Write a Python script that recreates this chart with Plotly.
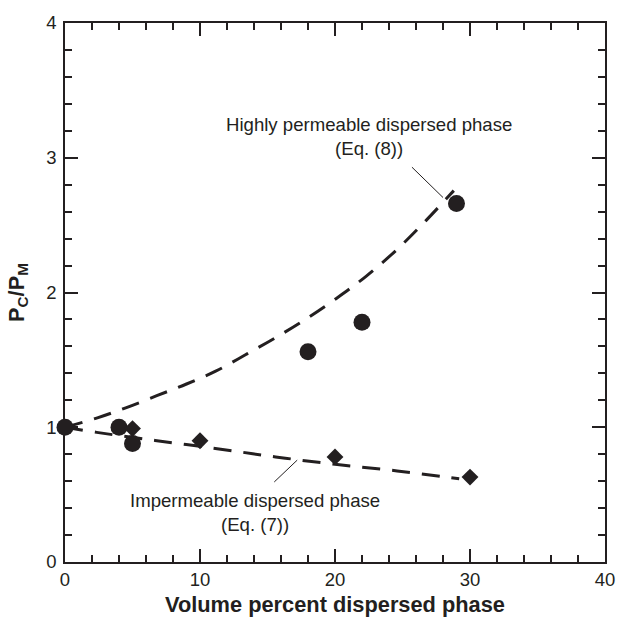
import plotly.graph_objects as go

# Measured permeability ratios
perm_x = [0, 4, 5, 18, 22, 29]
perm_y = [1.0, 1.0, 0.88, 1.56, 1.78, 2.66]
imperm_x = [5, 10, 20, 30]
imperm_y = [0.99, 0.90, 0.78, 0.63]

# Model curves
eq8_x = [0, 2.4, 4.5, 6.8, 9.0, 11.2, 13.4, 15.6, 17.8, 20.1, 22.3, 24.6, 26.7, 28.8]
eq8_y = [1.0, 1.07, 1.144, 1.234, 1.321, 1.418, 1.54, 1.665, 1.80, 1.956, 2.12, 2.32, 2.53, 2.756]
eq7_x = [0, 2.35, 6.67, 11.27, 15.6, 20.0, 24.6, 29.2]
eq7_y = [1.0, 0.962, 0.902, 0.841, 0.78, 0.725, 0.676, 0.617]

INK = "#231f20"
FONT = "Liberation Sans, Arial, sans-serif"

fig = go.Figure()

dash = "18px,12px"
fig.add_trace(go.Scatter(x=eq8_x, y=eq8_y, mode="lines",
                         line=dict(color=INK, width=3, dash=dash, shape="spline"),
                         showlegend=False, hoverinfo="skip"))
fig.add_trace(go.Scatter(x=eq7_x, y=eq7_y, mode="lines",
                         line=dict(color=INK, width=3, dash=dash, shape="spline"),
                         showlegend=False, hoverinfo="skip"))
fig.add_trace(go.Scatter(x=perm_x, y=perm_y, mode="markers",
                         marker=dict(symbol="circle", size=17, color=INK),
                         cliponaxis=False, showlegend=False))
fig.add_trace(go.Scatter(x=imperm_x, y=imperm_y, mode="markers",
                         marker=dict(symbol="diamond", size=13, color=INK),
                         cliponaxis=False, showlegend=False))

# Leader lines from labels to curves
fig.add_shape(type="line", x0=25.7, y0=2.93, x1=28.0, y1=2.705,
              line=dict(color=INK, width=1))
fig.add_shape(type="line", x0=15.5, y0=0.594, x1=17.2, y1=0.756,
              line=dict(color=INK, width=1))

fig.add_annotation(x=22.55, y=3.155, text="Highly permeable dispersed phase<br>(Eq. (8))",
                   showarrow=False, font=dict(family=FONT, size=18.6, color=INK),
                   align="center", xanchor="center", yanchor="middle")
fig.add_annotation(x=14.1, y=0.37, text="Impermeable dispersed phase<br>(Eq. (7))",
                   showarrow=False, font=dict(family=FONT, size=18.6, color=INK),
                   align="center", xanchor="center", yanchor="middle")

axis_common = dict(
    showgrid=False, zeroline=False,
    showline=True, linecolor=INK, linewidth=1.5,
    mirror="allticks",
    ticks="inside", ticklen=13, tickwidth=1.5, tickcolor=INK,
    tickfont=dict(family=FONT, size=18.5, color=INK),
)

fig.update_xaxes(range=[0, 40], tickmode="linear", tick0=0, dtick=10,
                 minor=dict(dtick=2, tick0=0, ticks="inside", ticklen=7,
                            tickwidth=1.5, tickcolor=INK),
                 title=dict(text="<b>Volume percent dispersed phase</b>",
                            font=dict(family=FONT, size=21.8, color=INK), standoff=8),
                 **axis_common)
fig.update_yaxes(range=[0, 4], tickmode="linear", tick0=0, dtick=1,
                 ticklabelstandoff=3,
                 minor=dict(dtick=0.2, tick0=0, ticks="inside", ticklen=7,
                            tickwidth=1.5, tickcolor=INK),
                 title=dict(text="<b>P<sub>C</sub>/P<sub>M</sub></b>",
                            font=dict(family=FONT, size=21.8, color=INK), standoff=16),
                 **axis_common)

fig.update_layout(width=627, height=625,
                  margin=dict(l=65, r=12, t=19, b=56),
                  plot_bgcolor="white", paper_bgcolor="white")

fig.write_html("out.html")
